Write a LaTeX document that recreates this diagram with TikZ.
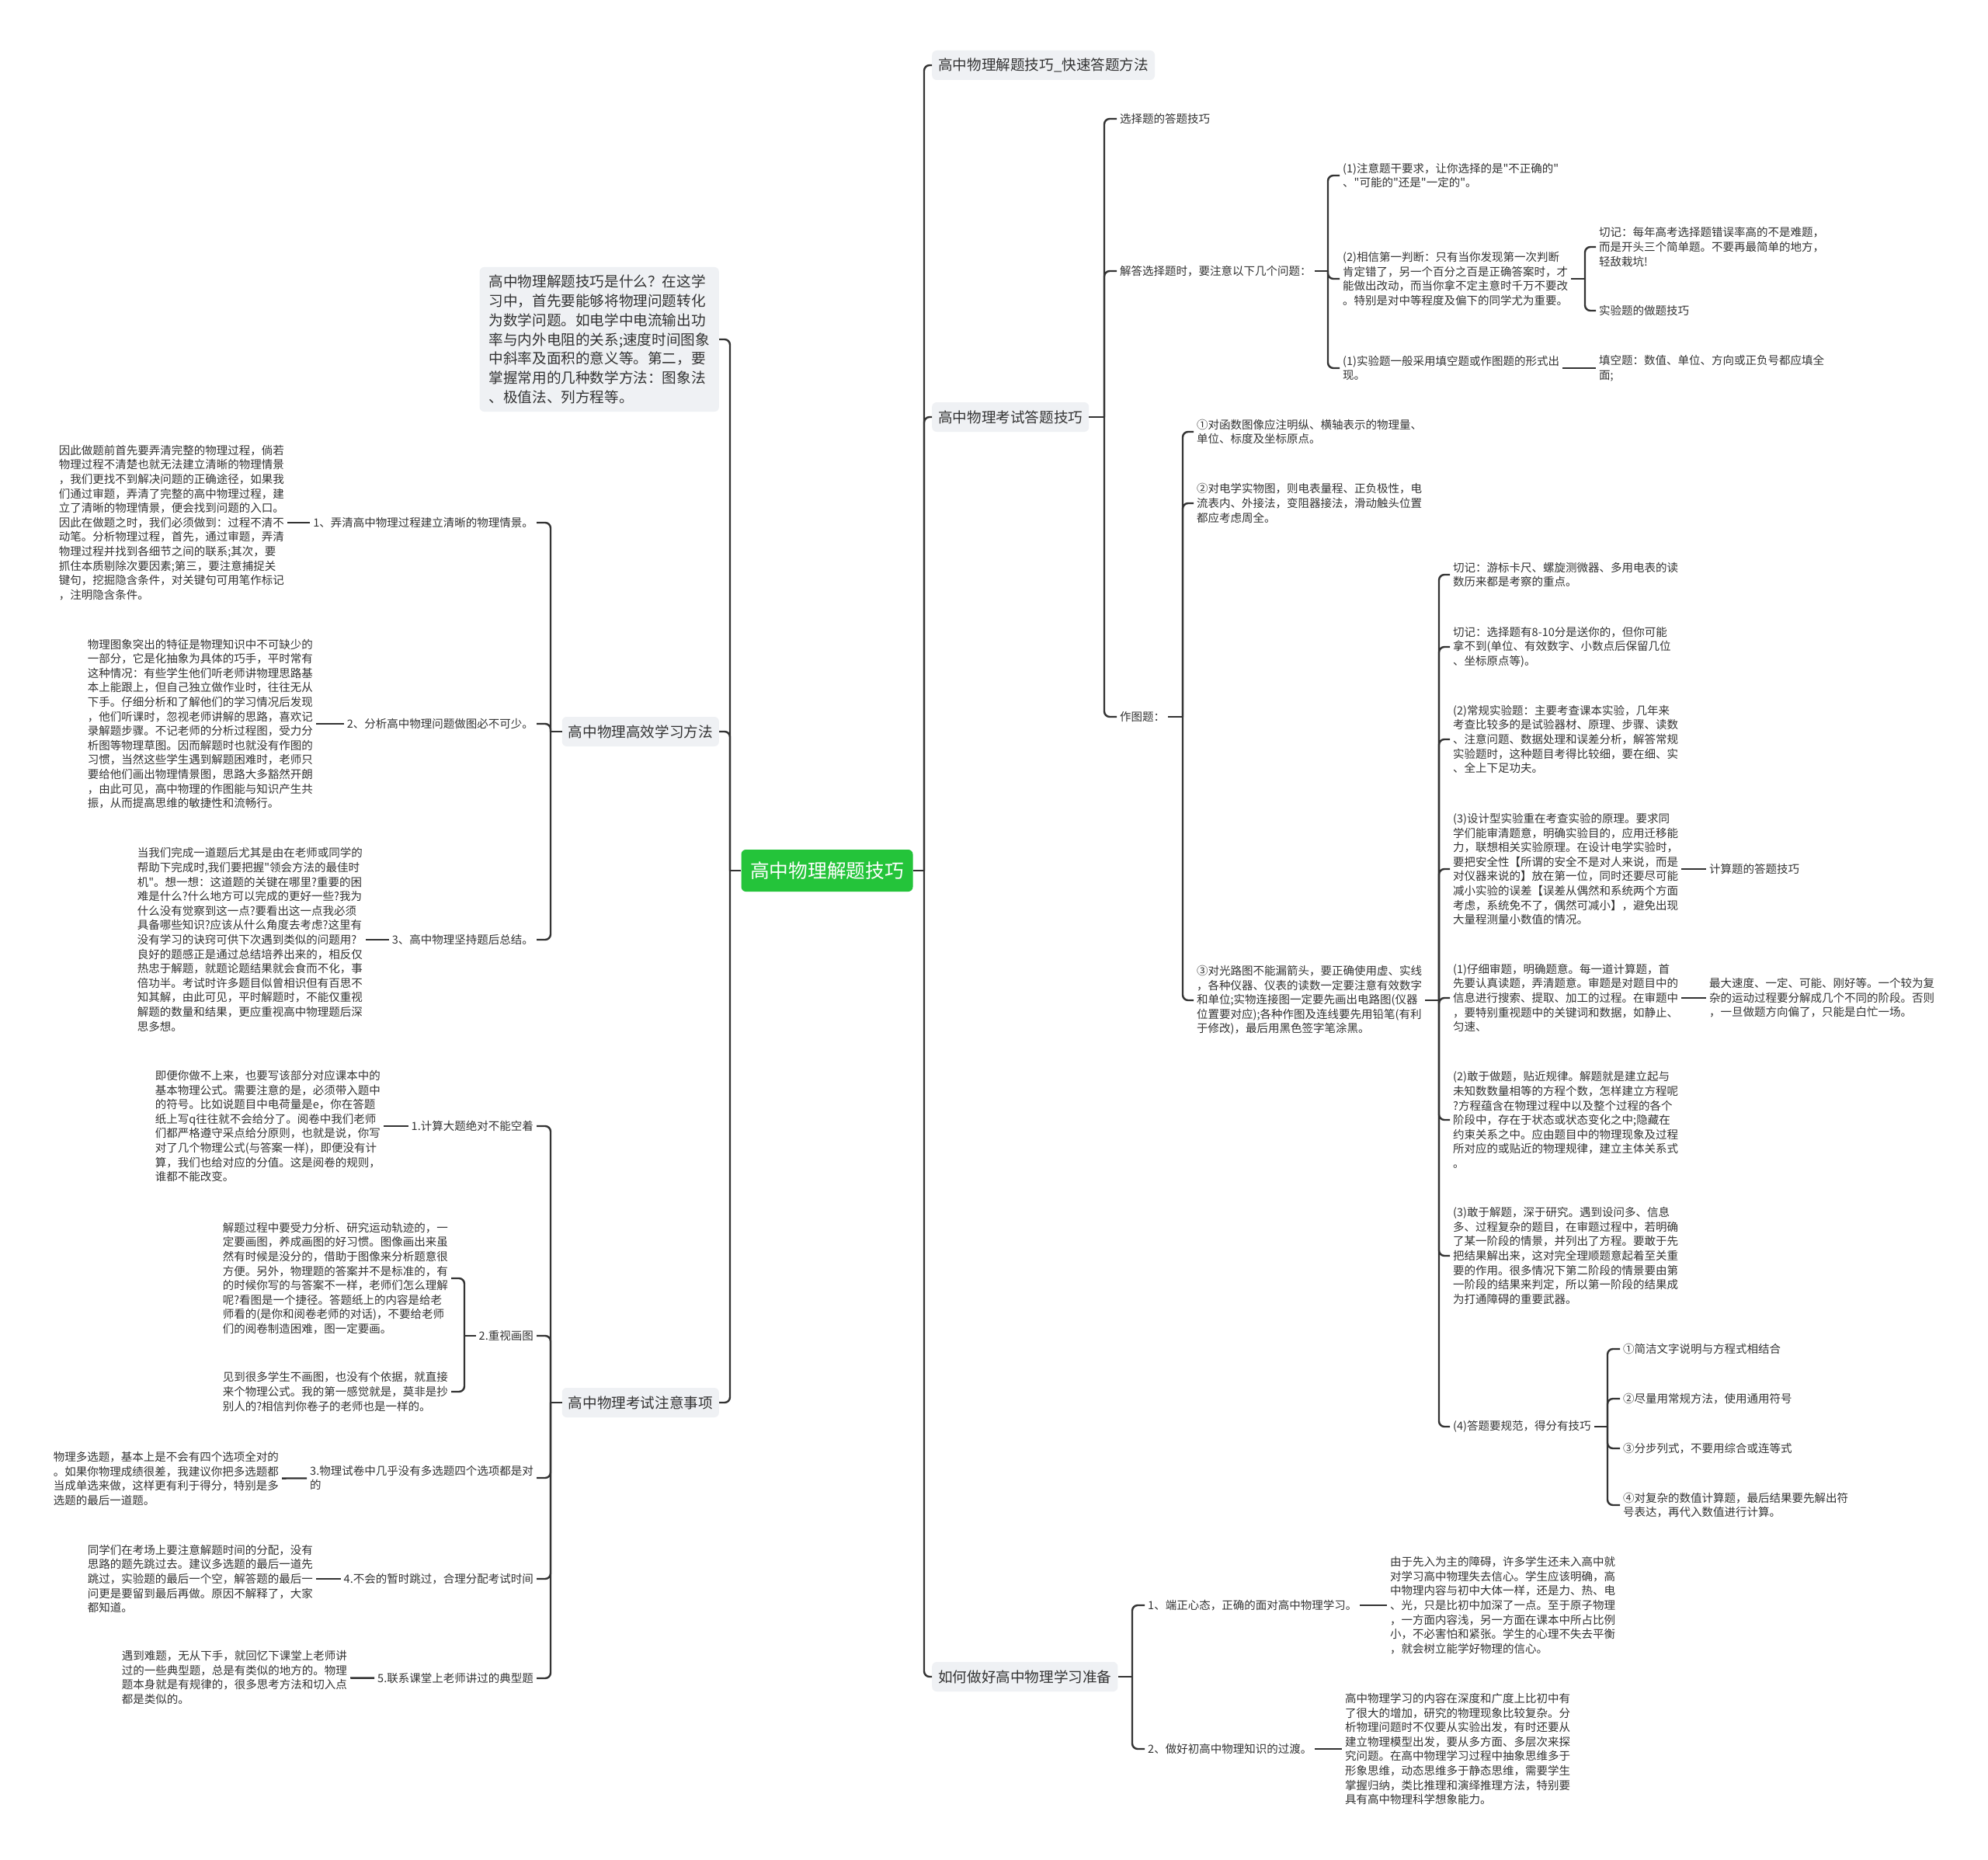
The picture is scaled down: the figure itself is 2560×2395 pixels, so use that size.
\documentclass[tikz,border=0pt]{standalone}
\usepackage{fontspec}
\setmainfont{Noto Sans CJK SC}[Ligatures=TeXOff]
\definecolor{rootgreen}{RGB}{36,196,58}
\definecolor{topicgray}{RGB}{239,241,244}
\definecolor{inkgray}{RGB}{51,51,51}
\newcommand\leaffont{\fontsize{14.5}{18.6}\selectfont}
\newcommand\topicfont{\fontsize{18.6}{24.8}\selectfont}
\tikzset{
  root/.style={fill=rootgreen, text=white, rounded corners=6pt, font=\fontsize{24.7}{30}\selectfont, minimum width=221pt, minimum height=54pt, inner sep=0pt},
  topic/.style={fill=topicgray, text=inkgray, rounded corners=6pt, font=\topicfont, align=left, inner xsep=8pt, minimum height=38pt},
  leaf/.style={text=inkgray, font=\leaffont, align=left, inner sep=4pt},
  rleaf/.style={leaf, anchor=west},
  lleaf/.style={leaf, anchor=east},
  link/.style={draw=inkgray, line width=2.4pt, rounded corners=7pt},
}
\begin{document}
\begin{tikzpicture}[x=1pt, y=-1pt]
\fill[white] (0,0) rectangle (2560,2395);
\useasboundingbox (0,0) rectangle (2560,2395);

% centre
\node[root] (root) at (1065,1121) {高中物理解题技巧};

% first level
\node[topic, anchor=west] (r1a) at (1200,84) {高中物理解题技巧\_快速答题方法};
\node[topic, anchor=west] (r1b) at (1200,537) {高中物理考试答题技巧};
\node[topic, anchor=west] (r1c) at (1200,2159) {如何做好高中物理学习准备};
\node[topic, anchor=east, inner xsep=12pt, inner ysep=10pt] (l1a) at (926,437) {高中物理解题技巧是什么？在这学\\习中，首先要能够将物理问题转化\\为数学问题。如电学中电流输出功\\率与内外电阻的关系;速度时间图象\\中斜率及面积的意义等。第二，要\\掌握常用的几种数学方法：图象法\\、极值法、列方程等。};
\node[topic, anchor=east] (l1b) at (926,942) {高中物理高效学习方法};
\node[topic, anchor=east] (l1c) at (926,1806) {高中物理考试注意事项};

% right: 考试答题技巧
\node[rleaf] (t1) at (1438,153) {选择题的答题技巧};
\node[rleaf] (t2) at (1438,349) {解答选择题时，要注意以下几个问题：};
\node[rleaf] (t3) at (1438,923) {作图题：};
\node[rleaf] (u1) at (1725,226) {(1)注意题干要求，让你选择的是"不正确的"\\、"可能的"还是"一定的"。};
\node[rleaf] (u2) at (1725,359) {(2)相信第一判断：只有当你发现第一次判断\\肯定错了，另一个百分之百是正确答案时，才\\能做出改动，而当你拿不定主意时千万不要改\\。特别是对中等程度及偏下的同学尤为重要。};
\node[rleaf] (u3) at (1725,474) {(1)实验题一般采用填空题或作图题的形式出\\现。};
\node[rleaf] (v1) at (2055,318) {切记：每年高考选择题错误率高的不是难题，\\而是开头三个简单题。不要再最简单的地方，\\轻敌栽坑!};
\node[rleaf] (v2) at (2055,400) {实验题的做题技巧};
\node[rleaf] (v3) at (2055,474) {填空题：数值、单位、方向或正负号都应填全\\面;};
\node[rleaf] (w1) at (1537,556) {①对函数图像应注明纵、横轴表示的物理量、\\单位、标度及坐标原点。};
\node[rleaf] (w2) at (1537,648) {②对电学实物图，则电表量程、正负极性，电\\流表内、外接法，变阻器接法，滑动触头位置\\都应考虑周全。};
\node[rleaf] (w3) at (1537,1288) {③对光路图不能漏箭头，要正确使用虚、实线\\，各种仪器、仪表的读数一定要注意有效数字\\和单位;实物连接图一定要先画出电路图(仪器\\位置要对应);各种作图及连线要先用铅笔(有利\\于修改)，最后用黑色签字笔涂黑。};
\node[rleaf] (x1) at (1867,740) {切记：游标卡尺、螺旋测微器、多用电表的读\\数历来都是考察的重点。};
\node[rleaf] (x2) at (1867,833) {切记：选择题有8-10分是送你的，但你可能\\拿不到(单位、有效数字、小数点后保留几位\\、坐标原点等)。};
\node[rleaf] (x3) at (1867,952) {(2)常规实验题：主要考查课本实验，几年来\\考查比较多的是试验器材、原理、步骤、读数\\、注意问题、数据处理和误差分析，解答常规\\实验题时，这种题目考得比较细，要在细、实\\、全上下足功夫。};
\node[rleaf] (x4) at (1867,1119) {(3)设计型实验重在考查实验的原理。要求同\\学们能审清题意，明确实验目的，应用迁移能\\力，联想相关实验原理。在设计电学实验时，\\要把安全性【所谓的安全不是对人来说，而是\\对仪器来说的】放在第一位，同时还要尽可能\\减小实验的误差【误差从偶然和系统两个方面\\考虑，系统免不了，偶然可减小】，避免出现\\大量程测量小数值的情况。};
\node[rleaf] (x5) at (1867,1285) {(1)仔细审题，明确题意。每一道计算题，首\\先要认真读题，弄清题意。审题是对题目中的\\信息进行搜索、提取、加工的过程。在审题中\\，要特别重视题中的关键词和数据，如静止、\\匀速、};
\node[rleaf] (x6) at (1867,1442) {(2)敢于做题，贴近规律。解题就是建立起与\\未知数数量相等的方程个数，怎样建立方程呢\\?方程蕴含在物理过程中以及整个过程的各个\\阶段中，存在于状态或状态变化之中;隐藏在\\约束关系之中。应由题目中的物理现象及过程\\所对应的或贴近的物理规律，建立主体关系式\\。};
\node[rleaf] (x7) at (1867,1617) {(3)敢于解题，深于研究。遇到设问多、信息\\多、过程复杂的题目，在审题过程中，若明确\\了某一阶段的情景，并列出了方程。要敢于先\\把结果解出来，这对完全理顺题意起着至关重\\要的作用。很多情况下第二阶段的情景要由第\\一阶段的结果来判定，所以第一阶段的结果成\\为打通障碍的重要武器。};
\node[rleaf] (x8) at (1867,1837) {(4)答题要规范，得分有技巧};
\node[rleaf] (y1) at (2197,1119) {计算题的答题技巧};
\node[rleaf] (y2) at (2197,1285) {最大速度、一定、可能、刚好等。一个较为复\\杂的运动过程要分解成几个不同的阶段。否则\\，一旦做题方向偏了，只能是白忙一场。};
\node[rleaf] (z1) at (2086,1737) {①简洁文字说明与方程式相结合};
\node[rleaf] (z2) at (2086,1801) {②尽量用常规方法，使用通用符号};
\node[rleaf] (z3) at (2086,1865) {③分步列式，不要用综合或连等式};
\node[rleaf] (z4) at (2086,1938) {④对复杂的数值计算题，最后结果要先解出符\\号表达，再代入数值进行计算。};

% right: 学习准备
\node[rleaf] (q1) at (1474,2067) {1、端正心态，正确的面对高中物理学习。};
\node[rleaf] (q2) at (1474,2252) {2、做好初高中物理知识的过渡。};
\node[rleaf] (p1) at (1786,2067) {由于先入为主的障碍，许多学生还未入高中就\\对学习高中物理失去信心。学生应该明确，高\\中物理内容与初中大体一样，还是力、热、电\\、光，只是比初中加深了一点。至于原子物理\\，一方面内容浅，另一方面在课本中所占比例\\小，不必害怕和紧张。学生的心理不失去平衡\\，就会树立能学好物理的信心。};
\node[rleaf] (p2) at (1728,2252) {高中物理学习的内容在深度和广度上比初中有\\了很大的增加，研究的物理现象比较复杂。分\\析物理问题时不仅要从实验出发，有时还要从\\建立物理模型出发，要从多方面、多层次来探\\究问题。在高中物理学习过程中抽象思维多于\\形象思维，动态思维多于静态思维，需要学生\\掌握归纳，类比推理和演绎推理方法，特别要\\具有高中物理科学想象能力。};

% left: 高效学习方法
\node[lleaf] (a1) at (691,673) {1、弄清高中物理过程建立清晰的物理情景。};
\node[lleaf] (a2) at (691,932) {2、分析高中物理问题做图必不可少。};
\node[lleaf] (a3) at (691,1210) {3、高中物理坚持题后总结。};
\node[lleaf] (b1) at (370,673) {因此做题前首先要弄清完整的物理过程，倘若\\物理过程不清楚也就无法建立清晰的物理情景\\，我们更找不到解决问题的正确途径，如果我\\们通过审题，弄清了完整的高中物理过程，建\\立了清晰的物理情景，便会找到问题的入口。\\因此在做题之时，我们必须做到：过程不清不\\动笔。分析物理过程，首先，通过审题，弄清\\物理过程并找到各细节之间的联系;其次，要\\抓住本质剔除次要因素;第三，要注意捕捉关\\键句，挖掘隐含条件，对关键句可用笔作标记\\，注明隐含条件。};
\node[lleaf] (b2) at (407,932) {物理图象突出的特征是物理知识中不可缺少的\\一部分，它是化抽象为具体的巧手，平时常有\\这种情况：有些学生他们听老师讲物理思路基\\本上能跟上，但自己独立做作业时，往往无从\\下手。仔细分析和了解他们的学习情况后发现\\，他们听课时，忽视老师讲解的思路，喜欢记\\录解题步骤。不记老师的分析过程图，受力分\\析图等物理草图。因而解题时也就没有作图的\\习惯，当然这些学生遇到解题困难时，老师只\\要给他们画出物理情景图，思路大多豁然开朗\\，由此可见，高中物理的作图能与知识产生共\\振，从而提高思维的敏捷性和流畅行。};
\node[lleaf] (b3) at (471,1210) {当我们完成一道题后尤其是由在老师或同学的\\帮助下完成时,我们要把握"领会方法的最佳时\\机"。想一想：这道题的关键在哪里?重要的困\\难是什么?什么地方可以完成的更好一些?我为\\什么没有觉察到这一点?要看出这一点我必须\\具备哪些知识?应该从什么角度去考虑?这里有\\没有学习的诀窍可供下次遇到类似的问题用?\\良好的题感正是通过总结培养出来的，相反仅\\热忠于解题，就题论题结果就会食而不化，事\\倍功半。考试时许多题目似曾相识但有百思不\\知其解，由此可见，平时解题时，不能仅重视\\解题的数量和结果，更应重视高中物理题后深\\思多想。};

% left: 考试注意事项
\node[lleaf] (c1) at (691,1450) {1.计算大题绝对不能空着};
\node[lleaf] (c2) at (691,1720) {2.重视画图};
\node[lleaf] (c3) at (691,1903) {3.物理试卷中几乎没有多选题四个选项都是对\\的};
\node[lleaf] (c4) at (691,2033) {4.不会的暂时跳过，合理分配考试时间};
\node[lleaf] (c5) at (691,2161) {5.联系课堂上老师讲过的典型题};
\node[lleaf] (d1) at (494,1450) {即便你做不上来，也要写该部分对应课本中的\\基本物理公式。需要注意的是，必须带入题中\\的符号。比如说题目中电荷量是e，你在答题\\纸上写q往往就不会给分了。阅卷中我们老师\\们都严格遵守采点给分原则，也就是说，你写\\对了几个物理公式(与答案一样)，即便没有计\\算，我们也给对应的分值。这是阅卷的规则，\\谁都不能改变。};
\node[lleaf] (d2a) at (581,1646) {解题过程中要受力分析、研究运动轨迹的，一\\定要画图，养成画图的好习惯。图像画出来虽\\然有时候是没分的，借助于图像来分析题意很\\方便。另外，物理题的答案并不是标准的，有\\的时候你写的与答案不一样，老师们怎么理解\\呢?看图是一个捷径。答题纸上的内容是给老\\师看的(是你和阅卷老师的对话)，不要给老师\\们的阅卷制造困难，图一定要画。};
\node[lleaf] (d2b) at (581,1792) {见到很多学生不画图，也没有个依据，就直接\\来个物理公式。我的第一感觉就是，莫非是抄\\别人的?相信判你卷子的老师也是一样的。};
\node[lleaf] (d3) at (363,1904) {物理多选题，基本上是不会有四个选项全对的\\。如果你物理成绩很差，我建议你把多选题都\\当成单选来做，这样更有利于得分，特别是多\\选题的最后一道题。};
\node[lleaf] (d4) at (407,2033) {同学们在考场上要注意解题时间的分配，没有\\思路的题先跳过去。建议多选题的最后一道先\\跳过，实验题的最后一个空，解答题的最后一\\问更是要留到最后再做。原因不解释了，大家\\都知道。};
\node[lleaf] (d5) at (451,2160) {遇到难题，无从下手，就回忆下课堂上老师讲\\过的一些典型题，总是有类似的地方的。物理\\题本身就是有规律的，很多思考方法和切入点\\都是类似的。};

% junctions
\coordinate (jr) at (1190,1121);
\coordinate (jl) at (940,1121);
\coordinate (j1b) at (1422,537);
\coordinate (jt2) at (1710,349);
\coordinate (ju2) at (2041,359);
\coordinate (jt3) at (1523,923);
\coordinate (jw3) at (1853,1288);
\coordinate (jx8) at (2070,1837);
\coordinate (j1c) at (1458,2159);
\coordinate (jl1b) at (709,942);
\coordinate (jl1c) at (709,1806);
\coordinate (jc2) at (598,1720);

% connectors
\draw[link] (root) -- (jr);
\draw[link] (root) -- (jl);
\foreach \n in {r1a,r1b,r1c} \draw[link] (jr) |- (\n);
\foreach \n in {l1a,l1b,l1c} \draw[link] (jl) |- (\n);

\draw[link] (r1b) -- (j1b);
\foreach \n in {t1,t2,t3} \draw[link] (j1b) |- (\n);
\draw[link] (t2) -- (jt2);
\foreach \n in {u1,u2,u3} \draw[link] (jt2) |- (\n);
\draw[link] (u2) -- (ju2);
\foreach \n in {v1,v2} \draw[link] (ju2) |- (\n);
\draw[link] (u3) -- (v3);
\draw[link] (t3) -- (jt3);
\foreach \n in {w1,w2,w3} \draw[link] (jt3) |- (\n);
\draw[link] (w3) -- (jw3);
\foreach \n in {x1,x2,x3,x4,x5,x6,x7,x8} \draw[link] (jw3) |- (\n);
\draw[link] (x4) -- (y1);
\draw[link] (x5) -- (y2);
\draw[link] (x8) -- (jx8);
\foreach \n in {z1,z2,z3,z4} \draw[link] (jx8) |- (\n);
\draw[link] (r1c) -- (j1c);
\foreach \n in {q1,q2} \draw[link] (j1c) |- (\n);
\draw[link] (q1) -- (p1);
\draw[link] (q2) -- (p2);

\draw[link] (l1b) -- (jl1b);
\foreach \n in {a1,a2,a3} \draw[link] (jl1b) |- (\n);
\draw[link] (a1) -- (b1);
\draw[link] (a2) -- (b2);
\draw[link] (a3) -- (b3);
\draw[link] (l1c) -- (jl1c);
\foreach \n in {c1,c2,c3,c4,c5} \draw[link] (jl1c) |- (\n);
\draw[link] (c1) -- (d1);
\draw[link] (c2) -- (jc2);
\foreach \n in {d2a,d2b} \draw[link] (jc2) |- (\n);
\draw[link] (c3) -- (d3);
\draw[link] (c4) -- (d4);
\draw[link] (c5) -- (d5);
\end{tikzpicture}
\end{document}
